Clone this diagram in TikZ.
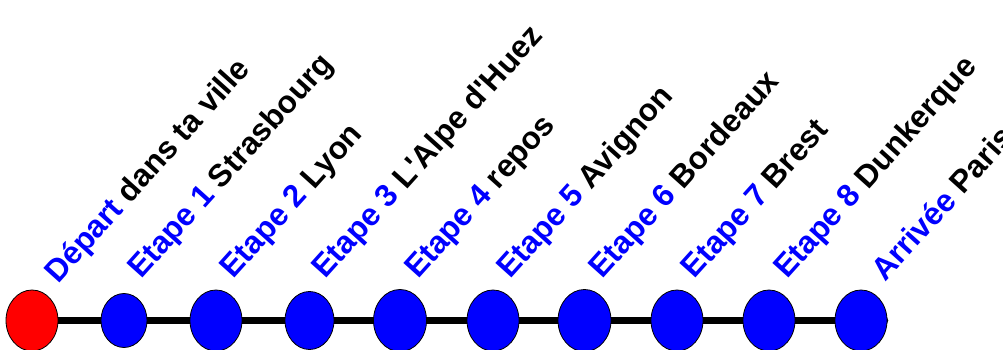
\documentclass[tikz,border=0pt]{standalone}
\usepackage{fontspec}
\setmainfont{Liberation Sans}
\usetikzlibrary{shapes.geometric,backgrounds}
\definecolor{pblue}{RGB}{0,0,255}
\definecolor{pred}{RGB}{255,0,0}
\tikzset{
  stop/.style={ellipse,draw=black,line width=0.8pt,inner sep=0pt},
  bluestop/.style={stop,fill=pblue},
  redstop/.style={stop,fill=pred},
  lbl/.style={anchor=base west,inner sep=0pt,rotate=48,font=\fontsize{31.5}{38}\selectfont\bfseries},
  track/.style={line width=7.5pt,line cap=round,black}
}
\begin{document}
\begin{tikzpicture}[x=1pt,y=1pt]
\useasboundingbox (0,0) rectangle (1003,350);
\node[redstop,minimum width=52pt,minimum height=61pt] (c0) at (32,29.5) {};
\node[bluestop,minimum width=46pt,minimum height=54pt] (c1) at (124,29.5) {};
\node[bluestop,minimum width=52pt,minimum height=61pt] (c2) at (216,29.5) {};
\node[bluestop,minimum width=49pt,minimum height=58pt] (c3) at (309.5,29.5) {};
\node[bluestop,minimum width=53pt,minimum height=62pt] (c4) at (400,29.5) {};
\node[bluestop,minimum width=52pt,minimum height=61pt] (c5) at (493,29.5) {};
\node[bluestop,minimum width=53pt,minimum height=62pt] (c6) at (584.5,29.5) {};
\node[bluestop,minimum width=52pt,minimum height=61pt] (c7) at (677,29.5) {};
\node[bluestop,minimum width=52pt,minimum height=61pt] (c8) at (769,29.5) {};
\node[bluestop,minimum width=52pt,minimum height=61pt] (c9) at (861,29.5) {};
\coordinate (tend) at (884.5,29.5);
\begin{pgfonlayer}{background}
\draw[track] (c0.center) -- (c1.center) -- (c2.center) -- (c3.center) -- (c4.center) -- (c5.center) -- (c6.center) -- (c7.center) -- (c8.center) -- (c9.center) -- (tend);
\end{pgfonlayer}
\node[lbl] (l0) at (58,65) {\textcolor{pblue}{Départ} dans ta ville};
\node[lbl] (l1) at (141,70) {\textcolor{pblue}{Etape 1} Strasbourg};
\node[lbl] (l2) at (233.3,70) {\textcolor{pblue}{Etape 2} Lyon};
\node[lbl] (l3) at (325.6,70) {\textcolor{pblue}{Etape 3} L\textquotesingle Alpe d\textquotesingle Huez};
\node[lbl] (l4) at (417.9,70) {\textcolor{pblue}{Etape 4} repos};
\node[lbl] (l5) at (510.2,70) {\textcolor{pblue}{Etape 5} Avignon};
\node[lbl] (l6) at (602.5,70) {\textcolor{pblue}{Etape 6} Bordeaux};
\node[lbl] (l7) at (694.8,70) {\textcolor{pblue}{Etape 7} Brest};
\node[lbl] (l8) at (787.1,70) {\textcolor{pblue}{Etape 8} Dunkerque};
\node[lbl] (l9) at (885,67) {\textcolor{pblue}{Arrivée} Paris};
\end{tikzpicture}
\end{document}
